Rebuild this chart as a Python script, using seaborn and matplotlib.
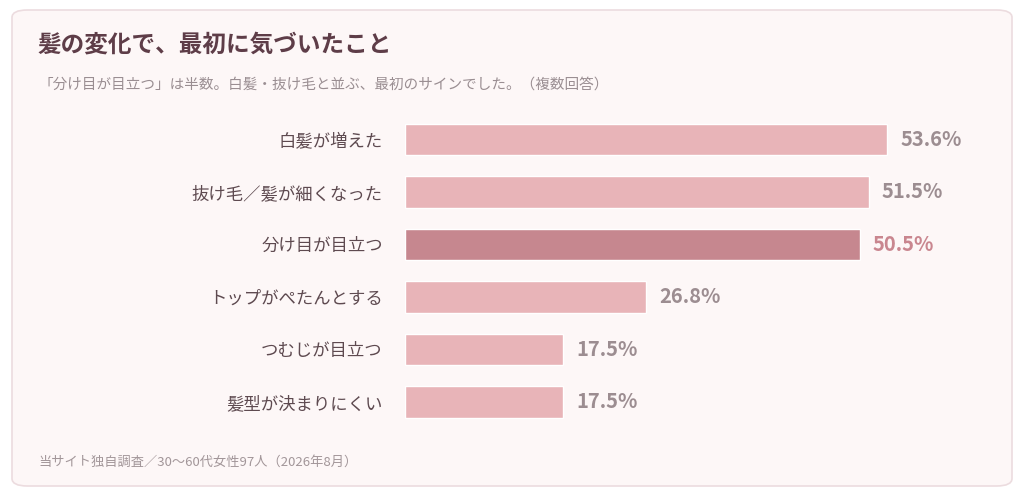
import matplotlib
matplotlib.use("Agg")
import matplotlib.pyplot as plt
import seaborn as sns
import pandas as pd
from matplotlib.patches import FancyBboxPatch

categories = ["白髪が増えた", "抜け毛／髪が細くなった", "分け目が目立つ", "トップがぺたんとする", "つむじが目立つ", "髪型が決まりにくい"]
values = [53.6, 51.5, 50.5, 26.8, 17.5, 17.5]
highlight = "分け目が目立つ"
title = "髪の変化で、最初に気づいたこと"
subtitle = "「分け目が目立つ」は半数。白髪・抜け毛と並ぶ、最初のサインでした。（複数回答）"
footer = "当サイト独自調査／30〜60代女性97人（2026年8月）"

sns.set_theme(style="white")
plt.rcParams['font.family'] = ['Noto Sans CJK JP', 'DejaVu Sans']

W, H = 1024, 498
fig = plt.figure(figsize=(W/100, H/100), dpi=100)
fig.patch.set_facecolor("white")
card = FancyBboxPatch((12/W, 12/H), 1000/W, 476/H, boxstyle="round,pad=0,rounding_size=0.015",
                      transform=fig.transFigure, facecolor="#fdf7f7", edgecolor="#ecdcdf", lw=1.2, zorder=-10)
fig.patches.append(card)

fig.text(38/W, 1-45/H, title, fontsize=17, fontweight="bold", color="#5e3d48", va="center")
fig.text(38/W, 1-85/H, subtitle, fontsize=10.5, color="#9a8e92", va="center")
fig.text(38/W, 1-462/H, footer, fontsize=9.5, color="#a29699", va="center")

df = pd.DataFrame({"cat": categories, "val": values})
colors = ["#c6878f" if c == highlight else "#e8b4b8" for c in categories]
ax = fig.add_axes([405/W, 1-428/H, 595/W, 315/H], zorder=5)
sns.barplot(data=df, x="val", y="cat", hue="cat", palette=colors, legend=False, ax=ax, width=0.6, saturation=1)
ax.set_xlim(0, 595/9.0)
ax.set_facecolor("none")
ax.patch.set_alpha(0)
for s in ax.spines.values():
    s.set_visible(False)
ax.set_xticks([])
ax.set_xlabel(""); ax.set_ylabel("")
ax.tick_params(axis="y", length=0, pad=16, labelsize=12.5, labelcolor="#5e4a50")
for i, (c, v) in enumerate(zip(categories, values)):
    ax.text(v + 1.5, i, f"{v}%", va="center", ha="left", fontsize=14.5, fontweight="bold",
            color="#c9868f" if c == highlight else "#9c8d91")
fig.savefig("out.png", dpi=100, facecolor=fig.get_facecolor())
